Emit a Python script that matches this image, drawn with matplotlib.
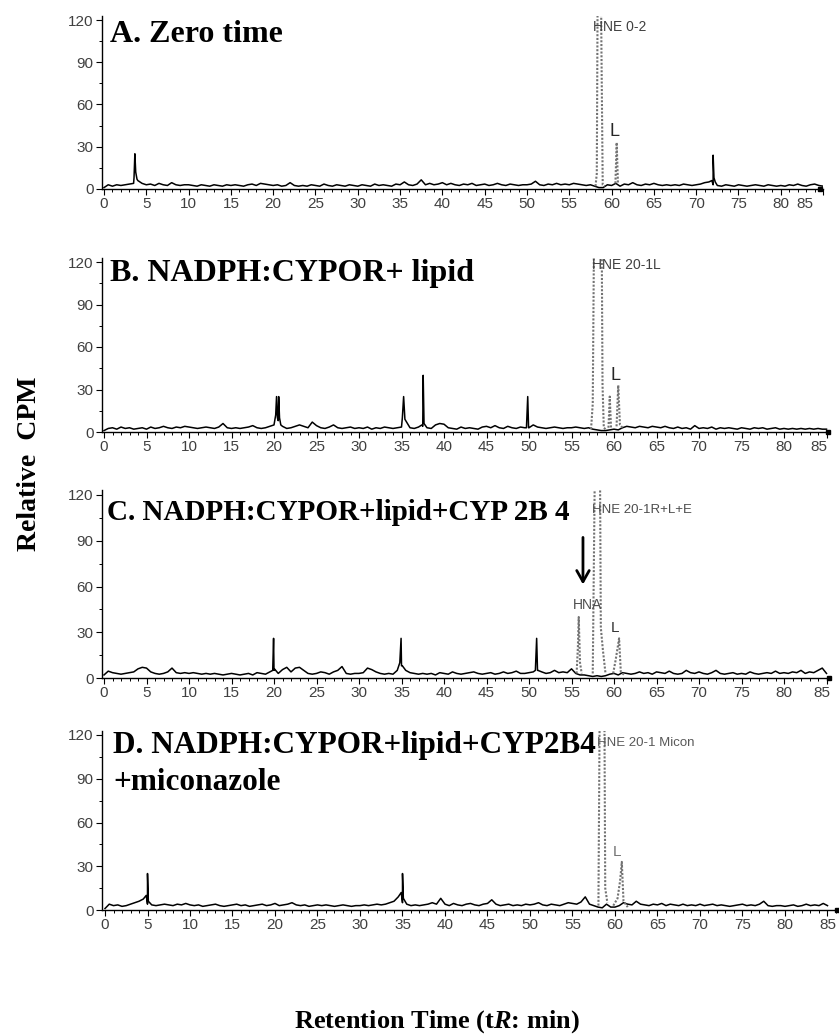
import numpy as np
import matplotlib
matplotlib.use("Agg")
import matplotlib.pyplot as plt
from matplotlib.ticker import MultipleLocator
import matplotlib.transforms as mtransforms

# ---------------- data ----------------
sample_step = 0.5  # baseline samples every 0.5 min, 0 .. 85 min

base_A = [1, 3, 2, 3, 2.5, 3, 3.5, 4, 6, 4, 3, 3.5, 2.5, 4, 3, 2.5, 4.5, 3, 2.5, 3,
          3, 2.5, 2, 3, 2.5, 2, 3, 2.5, 2, 3, 2.5, 3, 2.5, 2, 3, 3.5, 2.5, 4, 3.5, 3,
          2.5, 3, 2, 2.5, 4.5, 2.5, 2, 2.5, 2, 3, 2.5, 2, 3.5, 2.5, 2, 3, 2.5, 2, 3, 2.5,
          2, 3, 2.5, 2, 3.5, 2.5, 3, 2.5, 2, 3.5, 3, 5, 3, 2.5, 3.5, 6.5, 3, 4, 3, 3.5,
          4.5, 3, 4, 3, 2.5, 3.5, 3, 4, 2.5, 3, 3.5, 2.5, 3, 4, 3, 2.5, 3.5, 3, 2.5, 3,
          3, 3.5, 5.5, 3, 2.5, 3.5, 3, 4, 3, 3.5, 3, 4, 3.5, 3, 2.5, 3, 2, 1, 1, 3,
          2.5, 4, 2, 3.5, 3, 4.5, 3, 2.5, 3.5, 3, 4, 3, 2.5, 3, 2.5, 3, 2.5, 3.5, 3, 2.5,
          3, 3.5, 4.5, 5, 3, 2.5, 2, 3, 2.5, 2, 3, 2.5, 2, 2.5, 3, 2.5, 2, 3, 2.5, 2,
          2.5, 2, 3, 2.5, 3.5, 2.5, 2, 3, 3.5, 2.5, 2]
peak_A_t = [3.55, 3.65, 3.75, 3.9, 71.85, 72.0, 72.1, 72.25]
peak_A_y = [8, 25, 12, 7, 6, 24, 8, 5]
grey_A_t = [[58.1, 58.25, 58.35, 58.75, 58.8, 58.95, 59.2], [60.45, 60.6, 60.75]]
grey_A_y = [[2, 11, 140, 140, 99, 3, 2], [4, 33, 4]]

base_B = [1, 2.5, 3, 2, 3.5, 2.5, 3, 2, 2.5, 3, 2, 3.5, 2.5, 3, 4, 3, 2.5, 3.5, 3, 4,
          3.5, 3, 2.5, 3, 3.5, 3, 2.5, 3.5, 6, 3, 2.5, 3, 2.5, 3, 3.5, 4.5, 3, 2.5, 3, 4,
          5, 8, 4, 2.5, 3, 4, 5, 4, 3, 7, 4.5, 3, 2.5, 3.5, 5, 3, 2.5, 3, 3.5, 2.5,
          3, 2.5, 3.5, 2, 3, 2.5, 3.5, 3, 2.5, 3, 3.5, 8, 3, 2.5, 3.5, 4, 3, 2.5, 5, 6,
          5.5, 3, 2.5, 2, 3.5, 2.5, 3, 2.5, 2, 3.5, 4, 3, 4.5, 3, 2.5, 4, 3, 2.5, 3.5, 3,
          3, 5, 3.5, 3, 2.5, 3, 3.5, 3, 2.5, 3, 3, 3.5, 3, 2.5, 3, 2, 1.5, 1, 1, 1.5,
          2, 1.5, 3, 4, 3.5, 3, 4, 3.5, 3, 4, 3.5, 3, 4, 3, 2.5, 3.5, 2.5, 3, 2, 4.5,
          2.5, 3, 2.5, 3.5, 2, 3, 2.5, 3, 2.5, 2, 3, 2.5, 2, 3, 2.5, 3, 2, 2.5, 3, 2,
          2.5, 2, 2.5, 2, 2.5, 2, 2.5, 2, 2.5, 2, 2]
peak_B_t = [20.2, 20.3, 20.4, 20.55, 20.65, 20.8, 35.1, 35.25, 35.4,
            37.4, 37.55, 37.65, 49.7, 49.85, 49.95]
peak_B_y = [12, 25, 10, 25, 10, 5, 10, 25, 9, 5, 40, 6, 3, 25, 3]
grey_B_t = [[57.3, 57.5, 57.65, 58.55, 58.65, 58.8, 59.0],
            [59.35, 59.5, 59.65], [60.3, 60.5, 60.7, 61.0]]
grey_B_y = [[2, 20, 140, 140, 33, 3, 2], [3, 25, 3], [4, 33, 5, 3]]

base_C = [2, 4.5, 3.5, 3, 2.5, 3, 3.5, 4, 6, 7, 6.5, 4, 3, 2.5, 3, 4, 6.5, 3.5, 3, 3.5,
          3, 3.5, 3, 2.5, 3, 2.5, 3, 2.5, 2, 2.5, 3, 2.5, 2, 2.5, 3, 2, 3.5, 3, 2.5, 4,
          5, 3, 5.5, 7, 4, 6.5, 7, 5, 3, 2.5, 3, 4, 3.5, 2.5, 4, 5, 7.5, 3, 2.5, 3,
          3, 3.5, 6.5, 5.5, 4, 3, 2.5, 3, 2.5, 5, 8, 5, 3.5, 3, 2.5, 3, 2.5, 3, 2, 3.5,
          3, 2.5, 4, 3, 2.5, 3, 3.5, 4, 3, 2.5, 3, 3.5, 2.5, 3, 4, 3, 3.5, 4.5, 3, 3,
          3.5, 4, 5, 4, 3, 3.5, 5, 3.5, 4, 3.5, 6, 3, 2, 2, 1.5, 1, 1.5, 1, 1.5, 2.5,
          3, 2, 3.5, 3, 2.5, 3, 4, 3, 3.5, 2.5, 4, 3.5, 3, 4.5, 3, 2.5, 3, 5, 3.5, 3,
          4, 3, 2.5, 3.5, 5, 3, 2.5, 3, 3.5, 2.5, 3, 2.5, 4, 3, 2.5, 3, 3.5, 3, 4.5, 3,
          3.5, 3, 4, 3.5, 5, 3, 4, 3.5, 5, 6.5, 3]
peak_C_t = [19.85, 19.95, 20.05, 34.8, 34.95, 35.1, 50.75, 50.9, 51.05]
peak_C_y = [5, 26, 6, 10, 26, 8, 5, 26, 5]
grey_C_t = [[55.6, 55.75, 55.85, 56.0, 56.2],
            [57.5, 57.75, 58.35, 58.45, 58.7, 59.0],
            [59.9, 60.2, 60.6, 60.8, 61.2]]
grey_C_y = [[3, 20, 40, 10, 3], [3, 140, 140, 33, 18, 3], [3, 12, 26, 4, 2]]

base_D = [1, 4, 3, 3.5, 2.5, 3, 4, 5, 6, 7.5, 4, 3.5, 3, 3.5, 4, 3.5, 3, 4, 3.5, 4.5,
          3.5, 3, 3.5, 2.5, 3, 3.5, 4, 3, 2.5, 3, 3.5, 4, 3, 3.5, 2.5, 3, 3.5, 4, 3, 3.5,
          4.5, 3, 3.5, 4, 5, 3.5, 3, 3.5, 2.5, 3, 3.5, 3, 3.5, 3, 2.5, 3, 3.5, 3, 2.5, 3,
          3, 3.5, 3, 3.5, 4, 3.5, 4, 5, 6, 9, 5, 4, 3, 3.5, 3, 3.5, 4, 5, 4, 8,
          4, 3, 4.5, 3.5, 3, 4, 4.5, 3.5, 3, 4, 4.5, 7, 4, 3, 3.5, 4, 3, 3.5, 3, 4,
          3.5, 4, 5, 3.5, 3, 4, 3.5, 3, 4, 5, 4.5, 4, 5.5, 9, 4, 3, 2, 1.5, 4, 2,
          2, 3, 5, 4, 3.5, 6, 4, 3.5, 3, 4, 3.5, 4.5, 3, 4, 3.5, 3, 4, 3, 3.5, 3,
          4, 3, 3.5, 4, 3, 3.5, 3, 2.5, 3, 3.5, 4, 3, 3.5, 3, 4, 6, 3, 2.5, 3, 3,
          2.5, 3, 3.5, 2.5, 3, 4, 3, 3.5, 3, 4.5, 3]
peak_D_t = [4.85, 5.0, 5.1, 34.85, 35.0, 35.1]
peak_D_y = [10, 25, 6, 12, 25, 8]
grey_D_t = [[58.05, 58.2, 58.75, 58.85, 59.1], [59.8, 60.3, 60.6, 60.8, 61.0, 61.5]]
grey_D_y = [[3, 140, 140, 15, 5], [3, 8, 20, 33, 6, 2]]

titles = ["A. Zero time", "B. NADPH:CYPOR+ lipid",
          "C. NADPH:CYPOR+lipid+CYP 2B 4", "D. NADPH:CYPOR+lipid+CYP2B4"]
peak_labels = ["HNE 0-2", "HNE 20-1L", "HNE 20-1R+L+E", "HNE 20-1 Micon"]
x_ticks = [0, 5, 10, 15, 20, 25, 30, 35, 40, 45, 50, 55, 60, 65, 70, 75, 80, 85]
y_ticks = [0, 30, 60, 90, 120]

# ---------------- layout ----------------
W, H = 839, 1036
plt.rcParams["font.family"] = ["Liberation Sans", "DejaVu Sans"]
plt.rcParams["mathtext.fontset"] = "custom"
plt.rcParams["mathtext.rm"] = "Liberation Serif:bold"
plt.rcParams["mathtext.it"] = "Liberation Serif:bold:italic"
fig = plt.figure(figsize=(W / 100, H / 100), dpi=100)

PXM = 8.5
# (pixel y of value 0, pixel y of value 120, x max, label-85 pixel shift, pixel of t=0)
panel_geo = [(189, 20, 84.6, -18, 104), (432, 262, 85.2, -8, 104),
             (678, 495, 85.3, -5, 104), (910, 735, 86.1, 0, 105)]
YTOP = 123

bases = [base_A, base_B, base_C, base_D]
peaks_t = [peak_A_t, peak_B_t, peak_C_t, peak_D_t]
peaks_y = [peak_A_y, peak_B_y, peak_C_y, peak_D_y]
greys_t = [grey_A_t, grey_B_t, grey_C_t, grey_D_t]
greys_y = [grey_A_y, grey_B_y, grey_C_y, grey_D_y]

axes = []
for i in range(4):
    y0, y120, xmax, shift85, x0px = panel_geo[i]
    s = (y0 - y120) / 120.0
    top_px = y120 - (YTOP - 120) * s
    left_px = 102
    xmin = (left_px - x0px) / PXM
    right_px = x0px + xmax * PXM
    ax = fig.add_axes([left_px / W, 1 - y0 / H, (right_px - left_px) / W, (y0 - top_px) / H])
    axes.append(ax)
    ax.set_xlim(xmin, xmax)
    ax.set_ylim(0, YTOP)

    tg = np.arange(len(bases[i])) * sample_step
    t = np.concatenate([tg, peaks_t[i]])
    y = np.concatenate([bases[i], peaks_y[i]])
    order = np.argsort(t)
    ax.plot(t[order], y[order], color="black", lw=1.1)
    for gt, gy in zip(greys_t[i], greys_y[i]):
        ax.plot(gt, gy, color="0.45", lw=1.5, linestyle=(0, (1, 0.8)))

    for side in ("top", "right"):
        ax.spines[side].set_visible(False)
    ax.spines["left"].set_linewidth(1.0)
    ax.spines["bottom"].set_linewidth(1.0)
    ax.set_xticks(x_ticks)
    ax.set_xticklabels([str(v) for v in x_ticks])
    ax.xaxis.set_minor_locator(MultipleLocator(1))
    ax.set_yticks(y_ticks)
    ax.set_yticklabels([str(v) for v in y_ticks])
    ax.yaxis.set_minor_locator(MultipleLocator(15))
    ax.tick_params(axis="both", which="major", length=4, width=0.8, labelsize=11,
                   labelcolor="0.25", pad=2)
    ax.tick_params(axis="both", which="minor", length=2.5, width=0.7)
    ax.plot([xmax], [0], marker="s", ms=3.5, color="black", clip_on=False)
    lab85 = ax.get_xticklabels()[-1]
    lab85.set_transform(lab85.get_transform() +
                        mtransforms.ScaledTranslation(shift85 / 100, 0, fig.dpi_scale_trans))

# titles
serif = ["Liberation Serif", "DejaVu Serif"]
title_pos = [(110, 35, 23), (110, 273, 23), (107, 512, 21), (113, 745, 22.5)]
for (px, py, fs), ttl in zip(title_pos, titles):
    fig.text(px / W, 1 - py / H, ttl, family=serif, weight="bold", fontsize=fs,
             ha="left", va="center")
fig.text(113 / W, 1 - 782 / H, "+miconazole", family=serif, weight="bold",
         fontsize=22.5, ha="left", va="center")

# peak annotations (data coordinates)
axA, axB, axC, axD = axes
axA.text(57.8, 115, peak_labels[0], fontsize=10, color="0.25", va="center", ha="left", clip_on=False)
axA.text(60.35, 40.5, "L", fontsize=13, color="0.15", va="center", ha="center")
axB.text(57.4, 118, peak_labels[1], fontsize=10, color="0.25", va="center", ha="left", clip_on=False)
axB.text(60.2, 40, "L", fontsize=13, color="0.15", va="center", ha="center")
axC.text(57.4, 110, peak_labels[2], fontsize=9.5, color="0.3", va="center", ha="left")
axC.text(56.9, 48, "HNA", fontsize=10, color="0.3", va="center", ha="center")
axC.text(60.1, 33, "L", fontsize=11, color="0.2", va="center", ha="center")
axC.annotate("", xy=(56.35, 59.5), xytext=(56.35, 94),
             arrowprops=dict(arrowstyle="->,head_length=0.8,head_width=0.45",
                             lw=2.0, color="black"))
axD.text(57.9, 114.5, peak_labels[3], fontsize=9.5, color="0.35", va="center", ha="left", clip_on=False)
axD.text(60.2, 40, "L", fontsize=11, color="0.45", va="center", ha="center")

# axis titles
fig.text(30 / W, 1 - 464 / H, "Relative  CPM", family=serif, weight="bold", fontsize=20,
         rotation=90, ha="center", va="center")
fig.text(437 / W, 1 - 1022 / H, r"Retention Time (t$\mathit{R}$: min)", family=serif,
         weight="bold", fontsize=19, ha="center", va="center")

fig.savefig("out.png", dpi=100)
